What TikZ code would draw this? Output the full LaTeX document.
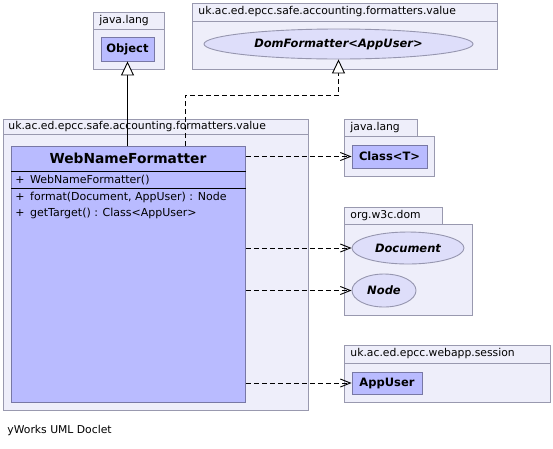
\documentclass[tikz,border=0pt]{standalone}
\usepackage{fontspec}
\setmainfont{DejaVu Sans}
\usetikzlibrary{shapes.geometric, arrows.meta, positioning}

\definecolor{pkgfill}{RGB}{238,238,250}
\definecolor{pkgline}{RGB}{153,153,175}
\definecolor{clsfill}{RGB}{185,187,255}
\definecolor{clsline}{RGB}{120,120,165}
\definecolor{ellfill}{RGB}{222,222,250}
\definecolor{ellline}{RGB}{150,150,175}

\begin{document}
\begin{tikzpicture}[x=1pt, y=-1pt, line width=0.9pt,
  pkg/.style={draw=pkgline, fill=pkgfill, anchor=north west, inner sep=0pt, outer sep=0pt},
  pkgname/.style={anchor=west, inner sep=0pt, font=\fontsize{10.8}{12}\selectfont},
  cls/.style={draw=clsline, fill=clsfill, inner sep=0pt, font=\bfseries\fontsize{11.5}{13}\selectfont},
  iface/.style={ellipse, draw=ellline, fill=ellfill, inner sep=0pt, font=\bfseries\itshape\fontsize{11.5}{13}\selectfont},
  member/.style={anchor=west, inner sep=0pt, font=\fontsize{11}{13}\selectfont},
  dep/.style={dash pattern=on 5pt off 3pt, -{Straight Barb[length=10pt,width=8pt,line width=0.9pt]}},
  inherit/.style={-{Triangle[length=14pt,width=13pt,fill=white]}},
  realize/.style={dash pattern=on 5pt off 3pt, -{Triangle[length=14pt,width=13pt,fill=white]}}]
  \useasboundingbox (0,0) rectangle (553,448);

  % java.lang
  \node[pkg, minimum width=71, minimum height=17] (langtab) at (93,12) {};
  \node[pkg, minimum width=71, minimum height=40] (langbody) at (93,29) {};
  \node[pkgname] (langname) at (99,20.5) {java.lang};
  \node[cls, minimum width=53, minimum height=24] (object) at (127.5,49) {Object};

  % uk.ac.ed.epcc.safe.accounting.formatters.value (interface)
  \node[pkg, minimum width=305, minimum height=18] (domtab) at (192,3) {};
  \node[pkg, minimum width=305, minimum height=48] (dombody) at (192,21) {};
  \node[pkgname] (domname) at (198,12) {uk.ac.ed.epcc.safe.accounting.formatters.value};
  \node[iface, minimum width=269, minimum height=30] (dom) at (338.5,44) {DomFormatter<AppUser>};

  % uk.ac.ed.epcc.safe.accounting.formatters.value (class)
  \node[pkg, minimum width=305, minimum height=15] (maintab) at (3,119) {};
  \node[pkg, minimum width=305, minimum height=276] (mainbody) at (3,134) {};
  \node[pkgname] (mainname) at (8,126.5) {uk.ac.ed.epcc.safe.accounting.formatters.value};
  \node[cls, anchor=north west, minimum width=234, minimum height=256] (wnf) at (11,146) {};
  \node[font=\bfseries\fontsize{13.8}{16}\selectfont, inner sep=0pt] (wnftitle) at (128,158.5) {WebNameFormatter};
  \draw ([yshift=-25]wnf.north west) -- ([yshift=-25]wnf.north east);
  \draw ([yshift=-42]wnf.north west) -- ([yshift=-42]wnf.north east);
  \node[member] (ctor) at (15,180) {+\enspace WebNameFormatter()};
  \node[member] (format) at (15,197) {+\enspace format(Document, AppUser) : Node};
  \node[member] (target) at (15,213) {+\enspace getTarget() : Class<AppUser>};

  % java.lang
  \node[pkg, minimum width=73, minimum height=17] (lang2tab) at (344,119) {};
  \node[pkg, minimum width=90, minimum height=40] (lang2body) at (344,136) {};
  \node[pkgname] (lang2name) at (350,127.5) {java.lang};
  \node[cls, minimum width=75, minimum height=23] (classT) at (389.5,156.5) {Class<T>};

  % org.w3c.dom
  \node[pkg, minimum width=98, minimum height=17] (w3ctab) at (344,207) {};
  \node[pkg, minimum width=128, minimum height=91] (w3cbody) at (344,224) {};
  \node[pkgname] (w3cname) at (350,215.5) {org.w3c.dom};
  \node[iface, minimum width=112, minimum height=32] (doc) at (408,248) {Document};
  \node[iface, minimum width=64, minimum height=33] (nodeI) at (384,290.5) {Node};

  % uk.ac.ed.epcc.webapp.session
  \node[pkg, minimum width=206, minimum height=18] (sesstab) at (344,345) {};
  \node[pkg, minimum width=206, minimum height=39] (sessbody) at (344,363) {};
  \node[pkgname] (sessname) at (350,354) {uk.ac.ed.epcc.webapp.session};
  \node[cls, minimum width=70, minimum height=22] (appuser) at (387,383) {AppUser};

  \node[pkgname] (doclet) at (7,431) {yWorks UML Doclet};

  \coordinate (bend) at (185,95);
  \draw[inherit] (wnf.north -| object.south) -- (object.south);
  \draw[realize] (wnf.north -| bend) -- (bend) -| (dom.south);
  \draw[dep] (wnf.east |- classT.west) -- (classT.west);
  \draw[dep] (wnf.east |- doc.west) -- (doc.west);
  \draw[dep] (wnf.east |- nodeI.west) -- (nodeI.west);
  \draw[dep] (wnf.east |- appuser.west) -- (appuser.west);
\end{tikzpicture}
\end{document}
